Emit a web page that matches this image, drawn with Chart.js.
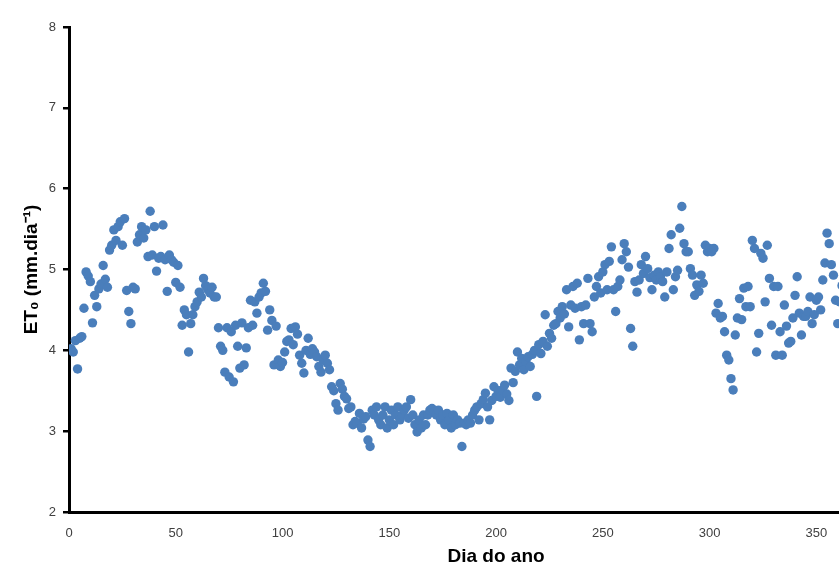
<!DOCTYPE html>
<html>
<head>
<meta charset="utf-8">
<script src="https://cdn.jsdelivr.net/npm/chart.js@4/dist/chart.umd.min.js"></script>
<style>
  html, body { margin: 0; padding: 0; background: #fff; overflow: hidden; }
  #wrap { width: 940px; height: 574px; position: relative; }
</style>
</head>
<body>
<div id="wrap"><canvas id="et0Chart"></canvas></div>
<script>
// evapotranspiração de referência diária (mm/dia), dias 1 a 365
const et0 = [
  4.02, 3.98, 4.12, 3.77, 4.15, 4.17, 4.52, 4.97, 4.92, 4.85,
  4.34, 4.68, 4.54, 4.76, 4.82, 5.05, 4.88, 4.78, 5.24, 5.30,
  5.49, 5.36, 5.53, 5.59, 5.30, 5.63, 4.74, 4.48, 4.33, 4.78,
  4.76, 5.34, 5.43, 5.53, 5.39, 5.49, 5.16, 5.72, 5.18, 5.53,
  4.98, 5.14, 5.16, 5.55, 5.12, 4.73, 5.18, 5.12, 5.09, 4.84,
  5.05, 4.78, 4.31, 4.50, 4.44, 3.98, 4.33, 4.44, 4.54, 4.60,
  4.72, 4.66, 4.89, 4.80, 4.75, 4.71, 4.78, 4.66, 4.66, 4.28,
  4.05, 4.00, 3.73, 4.28, 3.67, 4.23, 3.61, 4.31, 4.05, 3.78,
  4.34, 3.82, 4.03, 4.28, 4.62, 4.31, 4.60, 4.46, 4.66, 4.71,
  4.83, 4.73, 4.25, 4.50, 4.37, 3.82, 4.30, 3.88, 3.80, 3.85,
  3.98, 4.11, 4.13, 4.27, 4.07, 4.29, 4.20, 3.94, 3.84, 3.72,
  4.00, 4.15, 3.95, 4.02, 3.98, 3.92, 3.80, 3.73, 3.88, 3.94,
  3.84, 3.76, 3.55, 3.50, 3.34, 3.26, 3.59, 3.52, 3.43, 3.40,
  3.28, 3.30, 3.08, 3.12, 3.10, 3.22, 3.04, 3.15, 3.18, 2.89,
  2.81, 3.26, 3.20, 3.30, 3.14, 3.08, 3.20, 3.30, 3.04, 3.14,
  3.26, 3.08, 3.20, 3.30, 3.14, 3.20, 3.26, 3.30, 3.16, 3.39,
  3.20, 3.08, 2.99, 3.14, 3.04, 3.20, 3.08, 3.20, 3.26, 3.28,
  3.24, 3.20, 3.26, 3.14, 3.20, 3.08, 3.22, 3.14, 3.04, 3.20,
  3.08, 3.14, 3.10, 2.81, 3.10, 3.08, 3.14, 3.10, 3.20, 3.26,
  3.30, 3.14, 3.34, 3.39, 3.47, 3.30, 3.14, 3.38, 3.55, 3.43,
  3.50, 3.42, 3.51, 3.57, 3.46, 3.38, 3.78, 3.60, 3.74, 3.98,
  3.82, 3.90, 3.76, 3.86, 3.92, 3.80, 3.95, 4.00, 3.43, 4.07,
  3.96, 4.11, 4.44, 4.05, 4.21, 4.15, 4.31, 4.33, 4.48, 4.40,
  4.54, 4.45, 4.75, 4.29, 4.56, 4.79, 4.52, 4.83, 4.13, 4.54,
  4.33, 4.56, 4.89, 4.33, 4.23, 4.66, 4.79, 4.91, 4.71, 4.97,
  5.06, 4.75, 5.10, 5.28, 4.75, 4.48, 4.79, 4.87, 5.12, 5.32,
  5.22, 5.03, 4.27, 4.05, 4.85, 4.72, 4.87, 5.06, 4.95, 5.16,
  5.01, 4.90, 4.75, 4.93, 4.87, 4.97, 4.91, 4.85, 4.66, 4.97,
  5.26, 5.43, 4.75, 4.91, 4.99, 5.51, 5.78, 5.32, 5.22, 5.22,
  5.01, 4.93, 4.68, 4.81, 4.73, 4.93, 4.83, 5.30, 5.22, 5.26,
  5.22, 5.26, 4.46, 4.58, 4.40, 4.42, 4.23, 3.94, 3.88, 3.65,
  3.51, 4.19, 4.40, 4.64, 4.38, 4.77, 4.54, 4.79, 4.54, 5.36,
  5.26, 3.98, 4.21, 5.20, 5.14, 4.60, 5.30, 4.89, 4.31, 4.79,
  3.94, 4.79, 4.23, 3.94, 4.56, 4.30, 4.09, 4.11, 4.40, 4.68,
  4.91, 4.46, 4.19, 4.42, 4.42, 4.48, 4.66, 4.33, 4.44, 4.62,
  4.66, 4.50, 4.87, 5.08, 5.45, 5.32, 5.06, 4.93, 4.62, 4.33,
  4.60, 4.80, 4.50, 4.70, 4.40
];
const dias = et0.map((_, i) => i + 1);

const xTicks = [0, 50, 100, 150, 200, 250, 300, 350, 400];
const yTicks = [2, 3, 4, 5, 6, 7, 8];

const points = dias.map((d, i) => ({ x: d, y: et0[i] }));

const ctx = document.getElementById("et0Chart").getContext("2d");

const myChart = new Chart(ctx, {
  type: "scatter",
  data: {
    datasets: [
      {
        label: "ET0",
        data: points,
        backgroundColor: "#4a7ebb",
        borderColor: "#4a7ebb",
        borderWidth: 0,
        pointRadius: 4.7,
        pointHoverRadius: 4.7,
      },
    ],
  },
  options: {
    responsive: true,
    maintainAspectRatio: false,
    animation: false,
    events: [],
    layout: { padding: { top: 27, right: 11, bottom: 0, left: 0 } },
    plugins: { legend: { display: false }, tooltip: { enabled: false } },
    scales: {
      x: {
        type: "linear",
        min: xTicks[0],
        max: xTicks[xTicks.length - 1],
        afterFit: (s) => { s.height = 62; },
        afterBuildTicks: (s) => { s.ticks = xTicks.map((v) => ({ value: v })); },
        grid: { display: false },
        border: { display: true, color: "#000", width: 3 },
        ticks: {
          padding: 6,
          color: "#404040",
          font: { family: "'Liberation Sans Narrow', 'Liberation Sans', Arial", size: 13 },
        },
        title: {
          display: true,
          text: "Dia do ano",
          color: "#000",
          padding: { top: 0, bottom: 6 },
          font: { family: "'Liberation Sans', Arial", size: 19, weight: "bold" },
        },
      },
      y: {
        min: yTicks[0],
        max: yTicks[yTicks.length - 1],
        afterFit: (s) => { s.width = 69; },
        afterBuildTicks: (s) => { s.ticks = yTicks.map((v) => ({ value: v })); },
        grid: {
          drawOnChartArea: false,
          drawTicks: true,
          tickLength: 6,
          color: "#000",
          lineWidth: 2.5,
        },
        border: { display: true, color: "#000", width: 3 },
        ticks: {
          padding: 7,
          color: "#404040",
          font: { family: "'Liberation Sans', Arial", size: 13 },
        },
        title: {
          display: true,
          text: "ET\u2080 (mm.dia\u207B\u00B9)",
          color: "#000",
          padding: { top: 20, bottom: 0 },
          font: { family: "'Liberation Sans', Arial", size: 19, weight: "bold" },
        },
      },
    },
  },
});
</script>
</body>
</html>
